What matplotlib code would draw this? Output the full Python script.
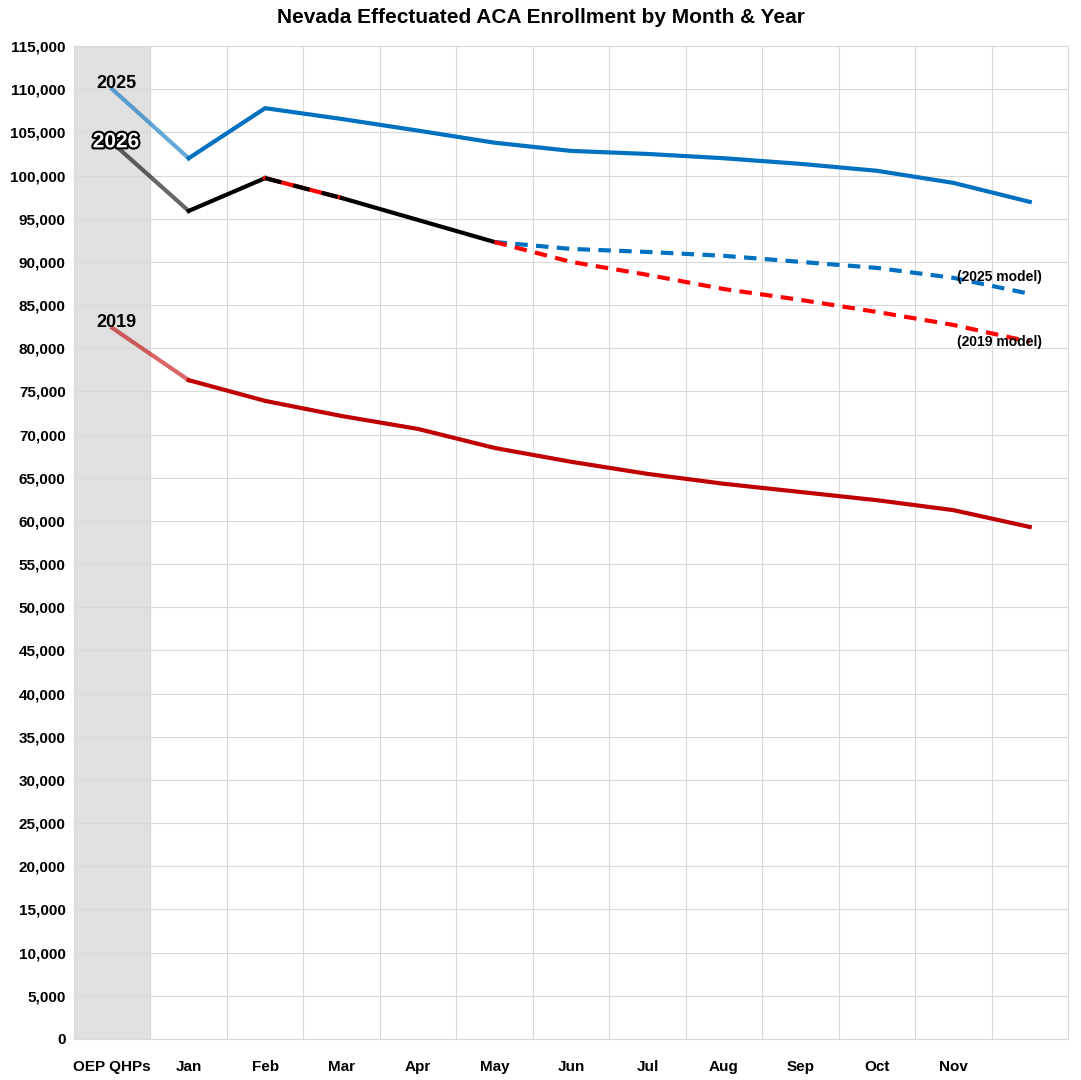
import matplotlib.pyplot as plt
import matplotlib.patheffects as pe
import numpy as np

months = ["OEP QHPs", "Jan", "Feb", "Mar", "Apr", "May", "Jun", "Jul", "Aug", "Sep", "Oct", "Nov", ""]
y2025 = [110000, 102000, 107800, 106550, 105200, 103800, 102850, 102500, 102000, 101350, 100550, 99150, 96950]
y2026 = [103800, 95900, 99700, 97400, 94850, 92300]
y2019 = [82350, 76300, 73900, 72150, 70650, 68450, 66850, 65450, 64300, 63350, 62400, 61250, 59300]
model2025 = [92300, 91500, 91150, 90700, 90000, 89300, 88150, 86300]
model2019 = [92300, 90000, 88500, 86850, 85600, 84200, 82700, 80750]

plt.rcParams['font.family'] = ['Liberation Sans', 'DejaVu Sans']
fig = plt.figure(figsize=(10.81, 10.8), dpi=100)
ax = fig.add_axes([74/1081, 41/1080, 994/1081, 993/1080])
x = np.arange(len(months)) + 0.5

blue, red = "#0070C0", "#C00000"
# OEP -> Jan segments lighter
ax.plot(x[:2], y2025[:2], color=blue, lw=3, alpha=0.6)
ax.plot(x[1:], y2025[1:], color=blue, lw=3)
ax.plot(x[:2], y2019[:2], color=red, lw=3, alpha=0.6)
ax.plot(x[1:], y2019[1:], color=red, lw=3)
ax.plot(x[:2], y2026[:2], color="black", lw=3, alpha=0.6)
ax.plot(x[1:3], y2026[1:3], color="black", lw=3)
ax.plot(x[2:4], y2026[2:4], color="red", lw=3)
ax.plot(x[2:4], y2026[2:4], color="black", lw=3, dashes=(4, 3))
ax.plot(x[3:6], y2026[3:6], color="black", lw=3)
xm = x[5:]
ax.plot(xm, model2025, color=blue, lw=3, dashes=(3, 2))
ax.plot(xm, model2019, color="red", lw=3, dashes=(3, 2))

ax.axvspan(0, 1, color="#e0e0e0", zorder=0)
ax.set_xlim(0, len(months))
ax.set_ylim(0, 115000)
ax.set_yticks(np.arange(0, 115001, 5000))
ax.set_yticklabels([f"{v:,}" for v in range(0, 115001, 5000)], fontsize=11, fontweight="bold")
ax.set_xticks(x)
ax.set_xticklabels(months, fontsize=11, fontweight="bold")
ax.set_xticks(np.arange(1, len(months)), minor=True)
ax.grid(True, which="major", axis="y", color="#d9d9d9")
ax.grid(True, which="minor", axis="x", color="#d9d9d9")
ax.tick_params(which="both", length=0)
ax.tick_params(axis="x", pad=15)
ax.tick_params(axis="y", pad=6)
for s in ax.spines.values():
    s.set_color("#d9d9d9")
ax.set_axisbelow(True)

ax.text(0.55, 110600, "2025", fontsize=13, fontweight="bold", ha="center", va="center")
ax.text(0.55, 103900, "2026", fontsize=15, fontweight="bold", ha="center", va="center",
        color="white", path_effects=[pe.withStroke(linewidth=3, foreground="black")])
ax.text(0.55, 83000, "2019", fontsize=13, fontweight="bold", ha="center", va="center")
ax.text(11.55, 88200, "(2025 model)", fontsize=10, fontweight="bold", va="center")
ax.text(11.55, 80700, "(2019 model)", fontsize=10, fontweight="bold", va="center")
fig.suptitle("Nevada Effectuated ACA Enrollment by Month & Year", y=0.993, fontsize=15, fontweight="bold")
fig.savefig("out.png", dpi=100)
